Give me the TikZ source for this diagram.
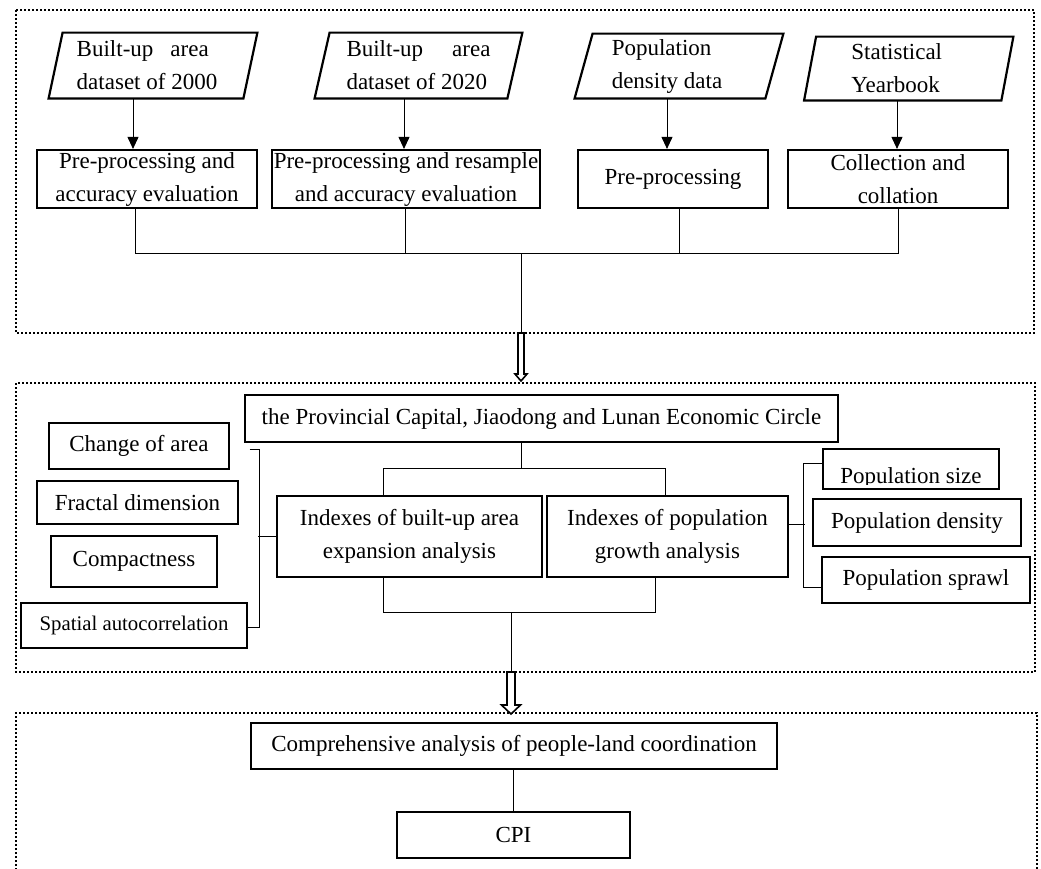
\documentclass[tikz,border=0pt]{standalone}
\usepackage{fontspec}
\setmainfont{Liberation Serif}
\usetikzlibrary{arrows.meta,calc}
\newcommand{\myfs}{\fontsize{11.5}{16.5}\selectfont}
\newcommand{\smallfs}{\fontsize{10.4}{12}\selectfont}
\newcommand{\mybox}[7]{\node[#6, minimum width={(#4-#2)*0.5pt}, minimum height={(#5-#3)*0.5pt}] (#1) at ({(#2+#4)/2},{(#3+#5)/2}) {#7};}
\begin{document}
\begin{tikzpicture}[x=0.5pt,y=-0.5pt,
  tb/.style={draw, line width=1.1pt, inner sep=0pt, align=center, font=\myfs},
  nb/.style={draw, line width=0.6pt, inner sep=0pt, align=center, font=\myfs},
  pa/.style={inner sep=0pt, align=left, font=\myfs},
  ln/.style={line width=0.45pt},
  arr/.style={line width=0.45pt, -{Triangle[width=5.5pt,length=6pt]}},
  frm/.style={line width=1pt, dash pattern=on 1pt off 1pt},
  hol/.style={line width=0.8pt, fill=white},
  pline/.style={line width=1.1pt, line join=miter}]
\useasboundingbox (0,0) rectangle (1041,869);

% frames
\draw[frm] (16,10) rectangle (1034,333);
\draw[frm] (16,383) rectangle (1035,672);
\draw[frm] (16,870) -- (16,713) -- (1037,713) -- (1037,870);

% ---- top section ----
\mybox{p1}{56}{33}{250}{98}{pa}{\makebox[66pt][s]{Built-up area}\\dataset of 2000\hspace*{6pt}}
\draw[pline] ($(p1.north west)+(7,0)$) -- ($(p1.north east)+(7,0)$) -- ($(p1.south east)+(-7,0)$) -- ($(p1.south west)+(-7,0)$) -- cycle;
\mybox{p2}{322.5}{33}{514.5}{98}{pa}{\makebox[72pt][s]{Built-up area}\\dataset of 2020}
\draw[pline] ($(p2.north west)+(7.5,0)$) -- ($(p2.north east)+(7.5,0)$) -- ($(p2.south east)+(-7.5,0)$) -- ($(p2.south west)+(-7.5,0)$) -- cycle;
\mybox{p3}{584}{34}{774}{98}{pa}{Population\\density data\hspace*{12pt}}
\draw[pline] ($(p3.north west)+(9,0)$) -- ($(p3.north east)+(9,0)$) -- ($(p3.south east)+(-9,0)$) -- ($(p3.south west)+(-9,0)$) -- cycle;
\mybox{p4}{810.5}{37}{1007}{100}{pa}{Statistical\hspace*{12pt}\\Yearbook}
\draw[pline] ($(p4.north west)+(6,0)$) -- ($(p4.north east)+(6,0)$) -- ($(p4.south east)+(-6,0)$) -- ($(p4.south west)+(-6,0)$) -- cycle;

\mybox{b1}{37}{150}{257}{208}{tb}{Pre-processing and\\accuracy evaluation}
\mybox{b2}{272}{150}{540}{208}{tb}{Pre-processing and resample\\and accuracy evaluation}
\mybox{b3}{578}{150}{768}{208}{tb}{Pre-processing}
\mybox{b4}{788}{150}{1008}{208}{tb}{Collection and\\collation}

\coordinate (a1) at (133,0);
\coordinate (a2) at (404,0);
\coordinate (a3) at (667,0);
\coordinate (a4) at (897,0);
\draw[arr] (p1.south -| a1) -- (b1.north -| a1);
\draw[arr] (p2.south -| a2) -- (b2.north -| a2);
\draw[arr] (p3.south -| a3) -- (b3.north -| a3);
\draw[arr] (p4.south -| a4) -- (b4.north -| a4);

\coordinate (l1) at (135,0);
\coordinate (l2) at (405,0);
\coordinate (l3) at (679,0);
\coordinate (l4) at (898,0);
\coordinate (jt) at (521,253);
\draw[ln] (b1.south -| l1) |- (jt);
\draw[ln] (b4.south -| l4) |- (jt);
\draw[ln] (b2.south -| l2) -- (l2 |- jt);
\draw[ln] (b3.south -| l3) -- (l3 |- jt);
\coordinate (h1s) at (521,333);
\coordinate (h1e) at (521,381);
\draw[ln] (jt) -- (h1s);
\draw[hol] ($(h1s)+(-3,0)$) -- ($(h1s)+(3,0)$) -- ($(h1e)+(3,-7)$) -- ($(h1e)+(6,-7)$) -- (h1e) -- ($(h1e)+(-6,-7)$) -- ($(h1e)+(-3,-7)$) -- cycle;

% ---- middle section ----
\mybox{prov}{245}{395}{838}{442}{nb}{the Provincial Capital, Jiaodong and Lunan Economic Circle}
\mybox{ib}{277}{496}{542}{577}{nb}{Indexes of built-up area\\expansion analysis}
\mybox{ip}{547}{496}{788}{577}{nb}{Indexes of population\\growth analysis}
\coordinate (jm) at (521,468);
\coordinate (mx1) at (383,468);
\coordinate (mx2) at (665,468);
\draw[ln] (prov.south -| jm) -- (jm);
\draw[ln] (ib.north -| mx1) |- (mx2) -- (ip.north -| mx2);
\coordinate (bx1) at (383,612);
\coordinate (bx2) at (655,612);
\coordinate (bj) at (511,612);
\draw[ln] (ib.south -| bx1) |- (bx2) -- (ip.south -| bx2);
\coordinate (h2s) at (511,672);
\coordinate (h2e) at (511,714);
\draw[ln] (bj) -- (h2s);
\draw[hol] ($(h2s)+(-4,0)$) -- ($(h2s)+(4,0)$) -- ($(h2e)+(4,-9)$) -- ($(h2e)+(9.5,-9)$) -- (h2e) -- ($(h2e)+(-9.5,-9)$) -- ($(h2e)+(-4,-9)$) -- cycle;

\mybox{ca}{49}{423}{229}{469}{nb}{Change of area}
\mybox{fd}{37}{481}{238}{524}{nb}{Fractal dimension}
\mybox{cp}{51}{536}{217}{587}{nb}{Compactness}
\mybox{sa}{21}{603}{247}{648}{nb,font=\smallfs}{Spatial autocorrelation}
\draw[ln] ($(ca.east)+(20,3)$) -| ($(sa.east)+(12,2)$) -- ($(sa.east)+(0,2)$);
\draw[ln] (ib.west) -- ++(-18,0);

\mybox{ps}{823}{449}{999}{489}{nb}{}
\begin{scope}
\clip (823,449) rectangle (999,484);
\node[font=\myfs, anchor=base, inner sep=0pt] (pst) at (911,483) {Population size};
\end{scope}
\mybox{pd}{813}{499}{1021}{546}{nb}{Population density}
\mybox{psp}{822}{557}{1030}{603}{nb}{Population sprawl}
\draw[ln] ($(ps.west)+(0,-6)$) -| ($(psp.west)+(-18,7)$) -- ($(psp.west)+(0,7)$);
\draw[ln] ($(ip.east)+(0,-12)$) -- ++(16,0);

% ---- bottom section ----
\mybox{co}{251}{723}{777}{769}{nb}{Comprehensive analysis of people-land coordination}
\mybox{cpi}{397}{812}{630}{858}{nb}{CPI}
\draw[ln] (co.south -| cpi.north) -- (cpi.north);
\end{tikzpicture}
\end{document}
